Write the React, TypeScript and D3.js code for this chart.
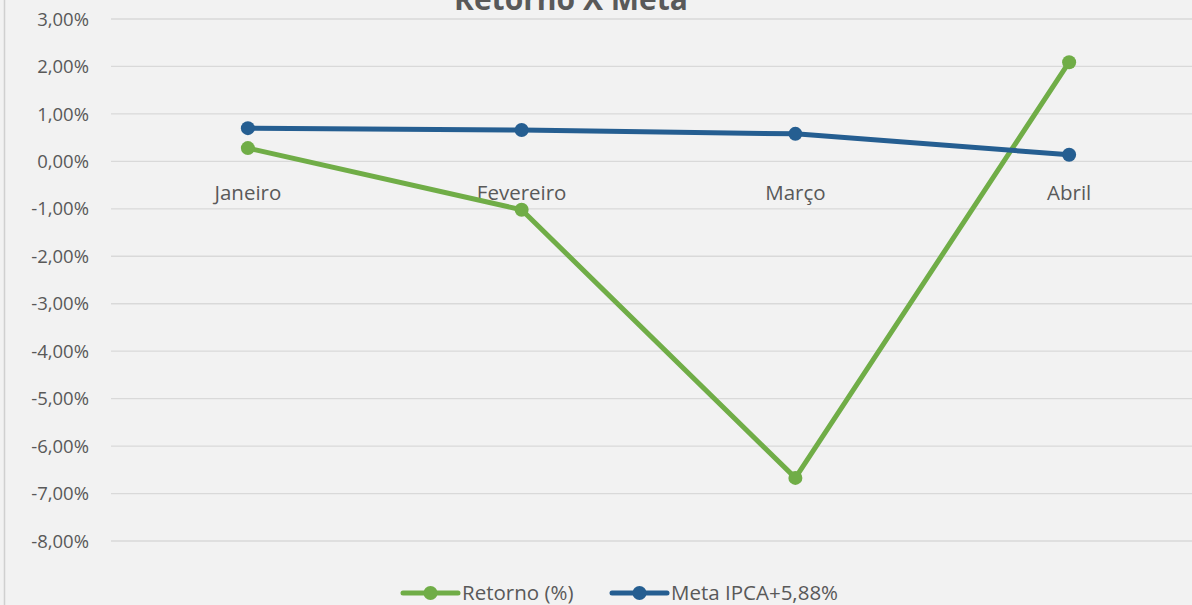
import React, { useEffect, useRef } from "react"
import * as d3 from "d3"

const months = ["Janeiro", "Fevereiro", "Março", "Abril"]
const retorno = [0.28, -1.02, -6.67, 2.09]
const meta = [0.70, 0.66, 0.58, 0.14]
const yTicks = [3, 2, 1, 0, -1, -2, -3, -4, -5, -6, -7, -8]

const W = 1192
const H = 605
const FONT = "'Open Sans', 'Liberation Sans', sans-serif"

const App = () => {
  const ref = useRef<SVGSVGElement>(null)

  useEffect(() => {
    const svg = d3.select(ref.current)
    svg.selectAll("*").remove()

    svg.append("rect").attr("width", W).attr("height", H).attr("fill", "#f2f2f2")
    svg.append("line").attr("x1", 4.5).attr("x2", 4.5).attr("y1", 0).attr("y2", H).attr("stroke", "#d0d0d0").attr("stroke-width", 1.5)

    const x = d3.scaleBand().domain(months).range([111, 1206])
    const y = d3.scaleLinear().domain([-8, 3]).range([541, 19])
    const cx = (m: string) => (x(m) as number) + x.bandwidth() / 2

    // grid
    svg.append("g").selectAll("line").data(yTicks).join("line")
      .attr("x1", 111).attr("x2", W).attr("y1", d => y(d)).attr("y2", d => y(d))
      .attr("stroke", "#d9d9d9").attr("stroke-width", 1.3)

    const fmt = (d: number) => d.toFixed(2).replace(".", ",") + "%"
    svg.append("g").selectAll("text").data(yTicks).join("text")
      .attr("x", 89).attr("y", d => y(d)).attr("dy", "0.36em")
      .attr("text-anchor", "end").attr("font-family", FONT).attr("font-size", 18.5)
      .attr("fill", "#595959").text(d => fmt(d))

    svg.append("g").selectAll("text").data(months).join("text")
      .attr("x", d => cx(d)).attr("y", y(0) + 31).attr("dy", "0.36em")
      .attr("text-anchor", "middle").attr("font-family", FONT).attr("font-size", 20.5)
      .attr("fill", "#595959").text(d => d)

    // title, partly cut off by the top edge as in the original
    svg.append("text").attr("x", 571).attr("y", 10).attr("text-anchor", "middle")
      .attr("font-family", FONT).attr("font-size", 30).attr("font-weight", "bold")
      .attr("fill", "#595959").text("Retorno X Meta")

    const series = [
      { name: "Retorno (%)", values: retorno, color: "#70ad47" },
      { name: "Meta IPCA+5,88%", values: meta, color: "#255e91" },
    ]

    const line = d3.line<number>().x((_, i) => cx(months[i])).y(d => y(d))
    series.forEach(s => {
      svg.append("path").attr("d", line(s.values)).attr("fill", "none")
        .attr("stroke", s.color).attr("stroke-width", 5).attr("stroke-linejoin", "round")
      svg.append("g").selectAll("circle").data(s.values).join("circle")
        .attr("cx", (_, i) => cx(months[i])).attr("cy", d => y(d)).attr("r", 7)
        .attr("fill", s.color)
    })

    // legend
    const legendX = [403, 612]
    series.forEach((s, i) => {
      const g = svg.append("g").attr("transform", `translate(${legendX[i]},593)`)
      g.append("line").attr("x1", 0).attr("x2", 55).attr("stroke", s.color).attr("stroke-width", 5).attr("stroke-linecap", "round")
      g.append("circle").attr("cx", 27.5).attr("r", 7).attr("fill", s.color)
      g.append("text").attr("x", 59).attr("dy", "0.36em").attr("font-family", FONT).attr("font-size", 20.5)
        .attr("fill", "#595959").text(s.name)
    })
  }, [])

  return <svg ref={ref} width={W} height={H} style={{ position: "absolute", left: 0, top: 0 }} />
}

export default App
